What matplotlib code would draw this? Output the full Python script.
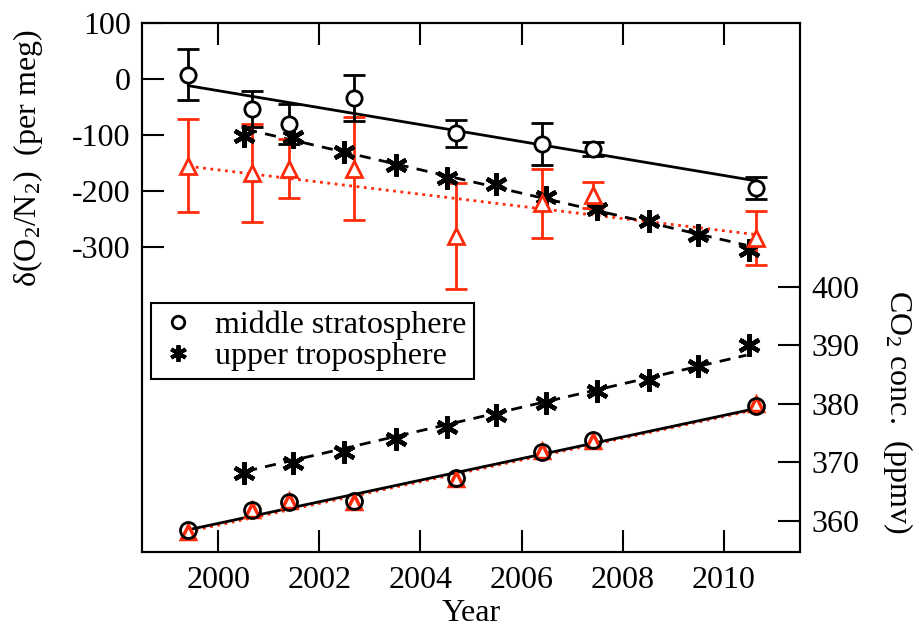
import numpy as np
import matplotlib.pyplot as plt
from matplotlib.lines import Line2D

plt.rcParams["font.family"] = ["Liberation Serif", "DejaVu Serif"]
plt.rcParams["mathtext.fontset"] = "custom"
plt.rcParams["mathtext.rm"] = "Liberation Serif"
plt.rcParams["mathtext.it"] = "Liberation Serif:italic"
plt.rcParams["axes.unicode_minus"] = False

# dados
anos_ms = [1999.41, 2000.66, 2001.39, 2002.69, 2004.70, 2006.41, 2007.42, 2010.64]
o2_ms = [8, -54, -80, -34, -97, -116, -125, -195]
o2_ms_err = [45, 32, 36, 41, 24, 37, 13, 20]
o2_red = [-155, -168, -160, -160, -280, -222, -207, -284]
o2_red_err = [83, 87, 53, 92, 95, 62, 23, 49]
co2_ms = [358.4, 361.9, 363.2, 363.4, 367.3, 371.8, 373.8, 379.7]
co2_red = [358.2, 361.8, 363.4, 363.2, 367.2, 372.0, 373.6, 380.0]

anos_ut = [2000.51, 2001.48, 2002.49, 2003.51, 2004.53, 2005.49, 2006.48,
           2007.50, 2008.52, 2009.50, 2010.51]
o2_ut = [-101, -104, -130, -154, -176, -188, -210, -233, -254, -278, -305]
co2_ut = [368.2, 369.9, 371.7, 374.0, 376.1, 378.1, 380.2, 382.1, 384.1, 386.5, 390.0]

# retas de ajuste (extremos)
ajuste_ms_x = [1999.41, 2010.64]
ajuste_ms_o2 = [-12, -182]
ajuste_red_o2 = [-156, -278]
ajuste_ms_co2 = [358.5, 379.2]
ajuste_red_co2 = [358.2, 379.0]
ajuste_ut_x = [2000.55, 2010.45]
ajuste_ut_o2 = [-90, -297]
ajuste_ut_co2 = [368.5, 388.3]

vermelho = "#ff2a0a"
fs = 23
ast = (6, 2, 0)

fig = plt.figure(figsize=(9.19, 6.27), dpi=100)
ax = fig.add_axes([0.1545, 0.1196, 0.716, 0.8437])
ax2 = ax.twinx()

# O2/N2
ax.plot(ajuste_ms_x, ajuste_ms_o2, "-", color="black", lw=2)
ax.plot(ajuste_ms_x, ajuste_red_o2, ":", color=vermelho, lw=2)
ax.plot(ajuste_ut_x, ajuste_ut_o2, "--", color="black", lw=2, dashes=(4, 3))
ax.errorbar(anos_ms, o2_red, yerr=o2_red_err, fmt="^", color=vermelho, mfc="white",
            mec=vermelho, mew=2, ms=11, capsize=8, capthick=2, elinewidth=2)
ax.errorbar(anos_ms, o2_ms, yerr=o2_ms_err, fmt="o", color="black", mfc="white",
            mec="black", mew=2, ms=11, capsize=8, capthick=2, elinewidth=2)
ax.plot(anos_ut, o2_ut, linestyle="none", marker=ast, ms=16, mew=3.2, color="black")

# CO2
ax2.plot(ajuste_ms_x, ajuste_red_co2, ":", color=vermelho, lw=2)
ax2.plot(ajuste_ms_x, ajuste_ms_co2, "-", color="black", lw=2)
ax2.plot(ajuste_ut_x, ajuste_ut_co2, "--", color="black", lw=2, dashes=(4, 3))
ax2.plot(anos_ms, co2_red, "^", ms=10, mfc="white", mec=vermelho, mew=2.5)
ax2.plot(anos_ms, co2_ms, "o", ms=11.5, mfc="none", mec="black", mew=2)
ax2.plot(anos_ut, co2_ut, linestyle="none", marker=ast, ms=16, mew=3.2, color="black")

ax.set_xlim(1998.49, 2011.51)
ax.set_ylim(-845, 100)
ax2.set_ylim(354.7, 445)

ax.set_xticks([2000, 2002, 2004, 2006, 2008, 2010])
ax.set_yticks([100, 0, -100, -200, -300])
ax2.set_yticks([360, 370, 380, 390, 400])

ax.tick_params(axis="x", direction="in", length=16, width=1.5, top=True,
               labelsize=fs, pad=10)
ax.tick_params(axis="y", direction="in", length=16, width=1.5, right=False,
               labelsize=fs, pad=8)
ax2.tick_params(axis="y", direction="in", length=16, width=1.5, labelsize=fs, pad=8)

for a in (ax, ax2):
    for s in a.spines.values():
        s.set_linewidth(1.5)

ax.set_xlabel("Year", fontsize=fs, labelpad=3)
fig.text(28 / 919, 1 - 158 / 627, r"δ(O$_2$/N$_2$)  (per meg)", rotation=90,
         ha="center", va="center", fontsize=fs)
fig.text(898 / 919, 1 - 412 / 627, r"CO$_2$ conc.  (ppmv)", rotation=270,
         ha="center", va="center", fontsize=fs)

handles = [
    Line2D([], [], linestyle="none", marker="o", ms=9, mfc="white", mec="black", mew=2),
    Line2D([], [], linestyle="none", marker=ast, ms=12, mew=2.8, color="black"),
]
leg = ax2.legend(handles, ["middle stratosphere", "upper troposphere"],
                 loc="upper left", bbox_to_anchor=(0.0132, 0.4707), borderaxespad=0,
                 fontsize=fs, fancybox=False, edgecolor="black", framealpha=1,
                 handlelength=1.2, handletextpad=0.55, labelspacing=0.05,
                 borderpad=0.25)
leg.get_frame().set_linewidth(1.5)

fig.savefig("out.png", dpi=100)
